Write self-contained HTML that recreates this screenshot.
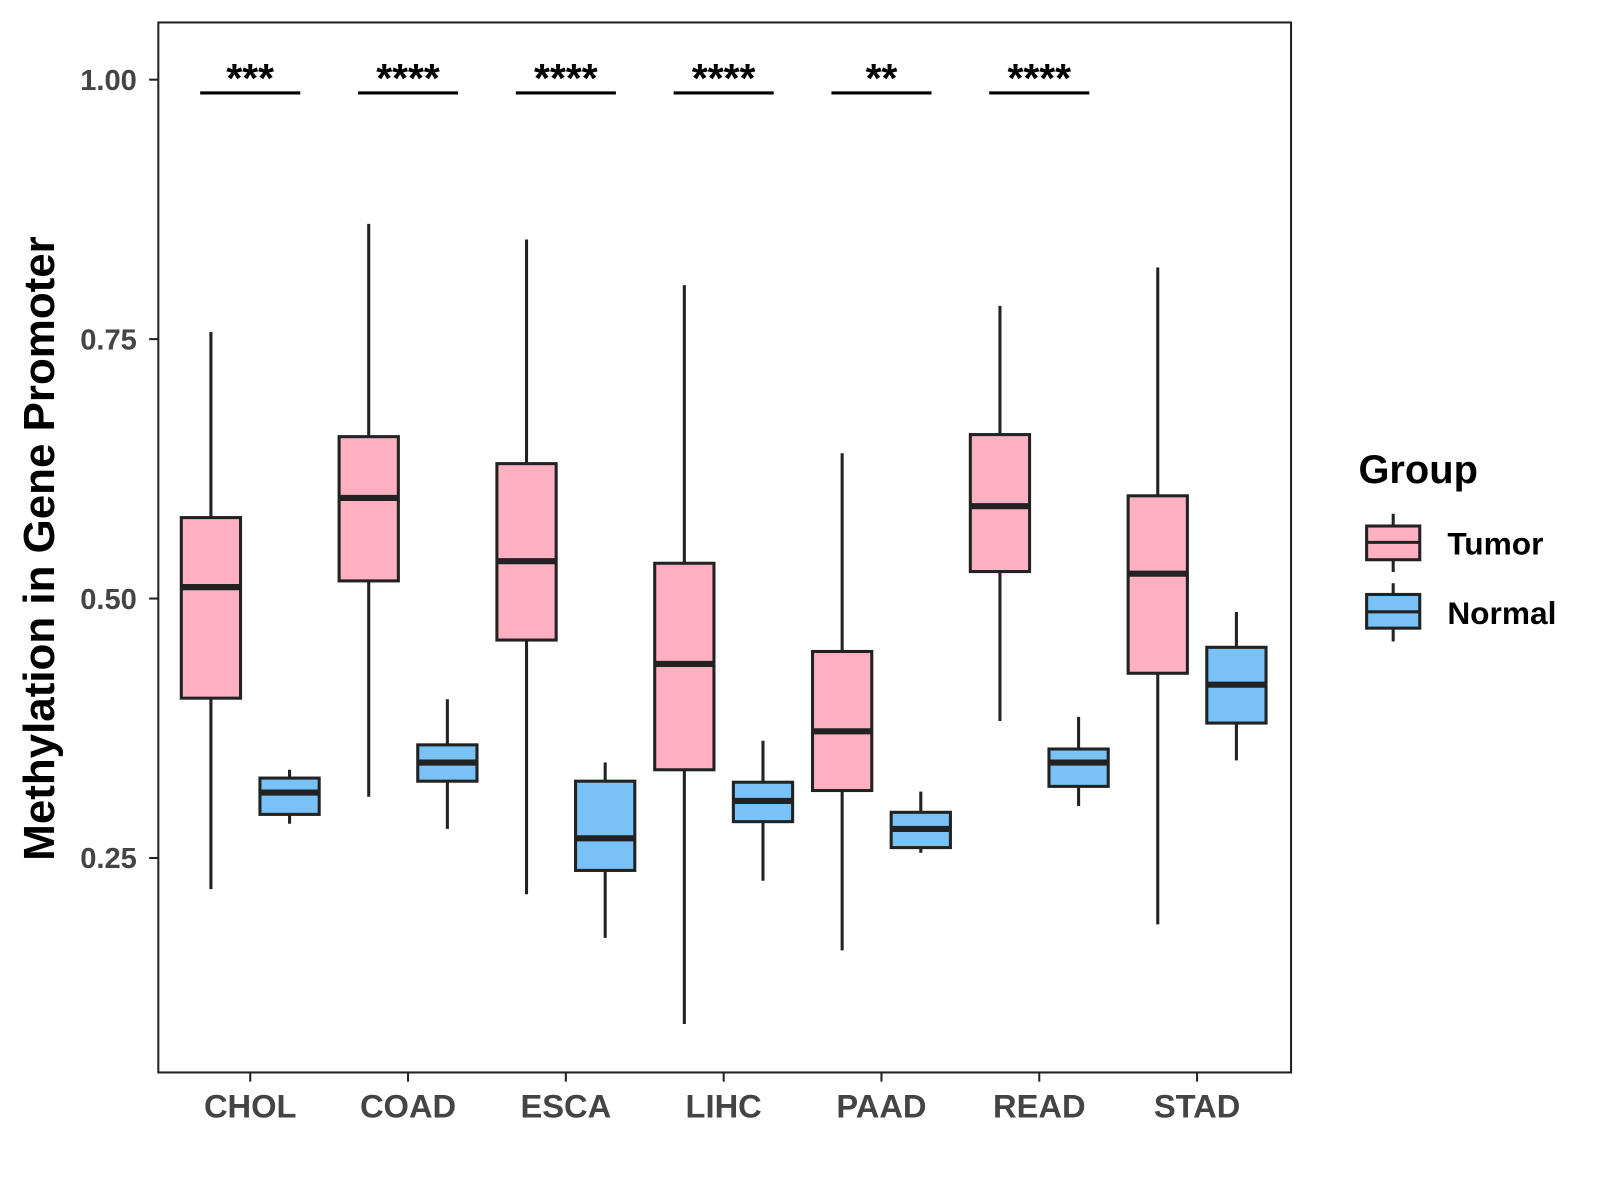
<!DOCTYPE html>
<html><head><meta charset="utf-8"><style>
html,body{margin:0;padding:0;background:#fff;width:1600px;height:1200px;overflow:hidden}
svg text{font-family:"Liberation Sans",Arial,sans-serif;font-weight:bold}
</style></head><body>
<svg id="chart" width="1600" height="1200" xmlns="http://www.w3.org/2000/svg">
<rect x="0" y="0" width="1600" height="1200" fill="#fff"/>
<g transform="scale(1.0214)">
<g id="plot"></g>
<rect x="155" y="22" width="1109" height="1028" fill="none" stroke="#222" stroke-width="2"/>
<text transform="translate(53,537) rotate(-90)" text-anchor="middle" font-size="43" fill="#000">Methylation in Gene Promoter</text>
<text x="1330" y="473" font-size="39" fill="#000">Group</text>
<g>
<line x1="1364" y1="503" x2="1364" y2="560" stroke="#222" stroke-width="3"/>
<rect x="1338" y="515" width="52" height="33" fill="#FFB0C1" stroke="#222" stroke-width="3"/>
<line x1="1338" y1="531" x2="1390" y2="531" stroke="#222" stroke-width="3"/>
<text x="1417" y="543" font-size="31" fill="#000">Tumor</text></g>
<g>
<line x1="1364" y1="571" x2="1364" y2="628" stroke="#222" stroke-width="3"/>
<rect x="1338" y="582" width="52" height="33" fill="#79C2F7" stroke="#222" stroke-width="3"/>
<line x1="1338" y1="599" x2="1390" y2="599" stroke="#222" stroke-width="3"/>
<text x="1417" y="611" font-size="31" fill="#000">Normal</text></g>
</g>
</svg>
<script>
const categories=["CHOL","COAD","ESCA","LIHC","PAAD","READ","STAD"];
const tumorMin=[0.220,0.309,0.215,0.090,0.161,0.382,0.186];
const tumorQ1=[0.404,0.517,0.460,0.335,0.315,0.526,0.428];
const tumorMed=[0.511,0.597,0.536,0.437,0.372,0.589,0.524];
const tumorQ3=[0.578,0.656,0.630,0.534,0.449,0.658,0.599];
const tumorMax=[0.757,0.861,0.846,0.802,0.640,0.782,0.819];
const normalMin=[0.283,0.278,0.173,0.228,0.255,0.300,0.344];
const normalQ1=[0.292,0.324,0.238,0.285,0.260,0.319,0.380];
const normalMed=[0.313,0.342,0.269,0.305,0.278,0.342,0.417];
const normalQ3=[0.327,0.359,0.324,0.323,0.294,0.355,0.453];
const normalMax=[0.335,0.403,0.342,0.363,0.314,0.386,0.487];
const signif=["***","****","****","****","**","****",""];
const yTicks=[0.25,0.50,0.75,1.00];
const yTickLabels=["0.25","0.50","0.75","1.00"];

const NS="http://www.w3.org/2000/svg";
const g=document.getElementById('plot');
function y(v){return 78+(1-v)*1016;}
function x(i){return 245+i*154.5;}
function mk(tag,attrs,parent){const e=document.createElementNS(NS,tag);for(const k in attrs)e.setAttribute(k,attrs[k]);(parent||g).appendChild(e);return e;}

yTicks.forEach((t,i)=>{
  const tk=mk('line',{x1:146,x2:155,y1:y(t),y2:y(t),stroke:'#222','stroke-width':2});
  
  
  const lb=mk('text',{x:134,y:y(t)+10,'text-anchor':'end','font-size':28.5,fill:'#444'});
  lb.textContent=yTickLabels[i];
  
  
});
categories.forEach((c,i)=>{
  const tk=mk('line',{x1:x(i),x2:x(i),y1:1050,y2:1059,stroke:'#222','stroke-width':2});
  
  
  const lb=mk('text',{x:x(i),y:1094,'text-anchor':'middle','font-size':32,fill:'#444'});
  lb.textContent=c;
  
  
});
function box(cx,mn,q1,md,q3,mx,fill,name){
  const bg=mk('g',{});
  
  
  mk('line',{x1:cx,x2:cx,y1:y(mx),y2:y(mn),stroke:'#222','stroke-width':3},bg);
  mk('rect',{x:cx-29,y:y(q3),width:58,height:y(q1)-y(q3),fill:fill,stroke:'#222','stroke-width':3},bg);
  mk('line',{x1:cx-29,x2:cx+29,y1:y(md),y2:y(md),stroke:'#222','stroke-width':6},bg);
}
categories.forEach((c,i)=>{
  box(x(i)-38.5,tumorMin[i],tumorQ1[i],tumorMed[i],tumorQ3[i],tumorMax[i],'#FFB0C1','box-tumor-'+c.toLowerCase());
  box(x(i)+38.5,normalMin[i],normalQ1[i],normalMed[i],normalQ3[i],normalMax[i],'#79C2F7','box-normal-'+c.toLowerCase());
  if(signif[i]){
    const ln=mk('line',{x1:x(i)-49,x2:x(i)+49,y1:91,y2:91,stroke:'#000','stroke-width':3});
    
    
    const st=mk('text',{x:x(i),y:90,'text-anchor':'middle','font-size':40,fill:'#000'});
    st.textContent=signif[i];
    
    
  }
});
</script>
</body></html>
